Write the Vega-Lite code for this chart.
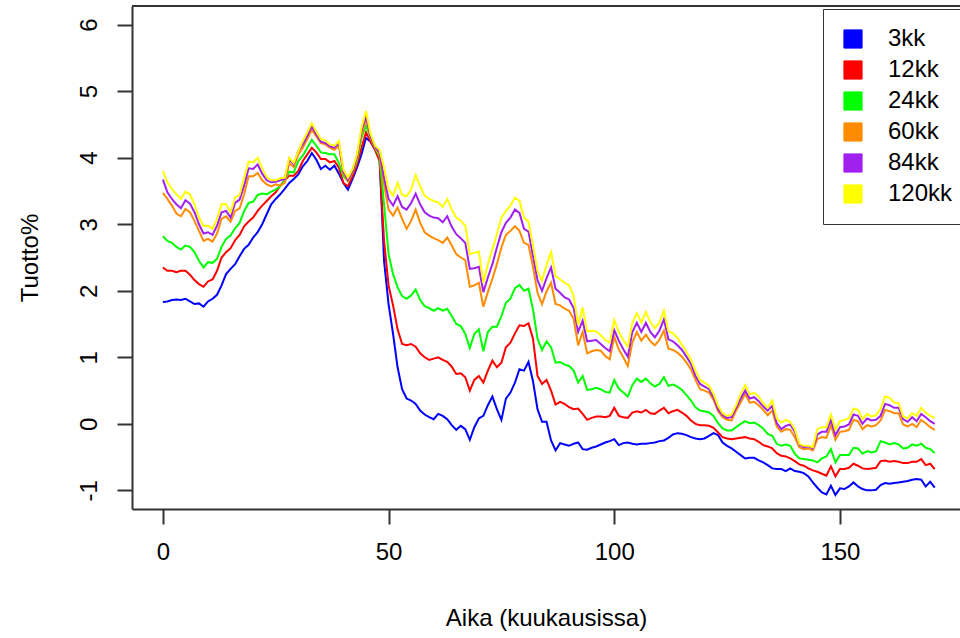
{
"$schema": "https://vega.github.io/schema/vega-lite/v6.json",
"width": 828,
"height": 503,
"autosize": {"type": "none"},
"padding": {"left": 132, "top": 6, "right": 0, "bottom": 129},
"background": "white",
"config": {"view": {"stroke": null}, "font": "Liberation Sans"},
"layer": [
{
"data": {"values": [
{"t":0,"3kk":1.83,"12kk":2.35,"24kk":2.82,"60kk":3.47,"84kk":3.67,"120kk":3.80},
{"t":1,"3kk":1.84,"12kk":2.30,"24kk":2.75,"60kk":3.38,"84kk":3.48,"120kk":3.63},
{"t":2,"3kk":1.86,"12kk":2.30,"24kk":2.72,"60kk":3.28,"84kk":3.38,"120kk":3.53},
{"t":3,"3kk":1.87,"12kk":2.28,"24kk":2.66,"60kk":3.16,"84kk":3.30,"120kk":3.45},
{"t":4,"3kk":1.86,"12kk":2.30,"24kk":2.62,"60kk":3.12,"84kk":3.24,"120kk":3.38},
{"t":5,"3kk":1.88,"12kk":2.30,"24kk":2.68,"60kk":3.23,"84kk":3.36,"120kk":3.49},
{"t":6,"3kk":1.84,"12kk":2.24,"24kk":2.66,"60kk":3.18,"84kk":3.31,"120kk":3.45},
{"t":7,"3kk":1.80,"12kk":2.16,"24kk":2.58,"60kk":3.05,"84kk":3.18,"120kk":3.30},
{"t":8,"3kk":1.81,"12kk":2.10,"24kk":2.45,"60kk":2.90,"84kk":3.00,"120kk":3.10},
{"t":9,"3kk":1.76,"12kk":2.06,"24kk":2.35,"60kk":2.75,"84kk":2.86,"120kk":2.97},
{"t":10,"3kk":1.84,"12kk":2.14,"24kk":2.43,"60kk":2.78,"84kk":2.88,"120kk":2.98},
{"t":11,"3kk":1.88,"12kk":2.17,"24kk":2.42,"60kk":2.74,"84kk":2.84,"120kk":2.93},
{"t":12,"3kk":1.94,"12kk":2.30,"24kk":2.48,"60kk":2.86,"84kk":2.98,"120kk":3.08},
{"t":13,"3kk":2.08,"12kk":2.50,"24kk":2.66,"60kk":3.08,"84kk":3.18,"120kk":3.30},
{"t":14,"3kk":2.25,"12kk":2.58,"24kk":2.78,"60kk":3.12,"84kk":3.20,"120kk":3.30},
{"t":15,"3kk":2.33,"12kk":2.64,"24kk":2.83,"60kk":3.04,"84kk":3.10,"120kk":3.18},
{"t":16,"3kk":2.40,"12kk":2.76,"24kk":2.94,"60kk":3.20,"84kk":3.32,"120kk":3.40},
{"t":17,"3kk":2.52,"12kk":2.84,"24kk":3.02,"60kk":3.24,"84kk":3.37,"120kk":3.44},
{"t":18,"3kk":2.63,"12kk":2.97,"24kk":3.20,"60kk":3.45,"84kk":3.58,"120kk":3.70},
{"t":19,"3kk":2.69,"12kk":3.04,"24kk":3.32,"60kk":3.72,"84kk":3.84,"120kk":3.94},
{"t":20,"3kk":2.80,"12kk":3.10,"24kk":3.34,"60kk":3.72,"84kk":3.83,"120kk":3.93},
{"t":21,"3kk":2.88,"12kk":3.20,"24kk":3.44,"60kk":3.77,"84kk":3.90,"120kk":4.00},
{"t":22,"3kk":3.00,"12kk":3.28,"24kk":3.46,"60kk":3.66,"84kk":3.76,"120kk":3.84},
{"t":23,"3kk":3.15,"12kk":3.35,"24kk":3.45,"60kk":3.60,"84kk":3.66,"120kk":3.71},
{"t":24,"3kk":3.30,"12kk":3.42,"24kk":3.49,"60kk":3.57,"84kk":3.63,"120kk":3.66},
{"t":25,"3kk":3.38,"12kk":3.48,"24kk":3.52,"60kk":3.60,"84kk":3.64,"120kk":3.66},
{"t":26,"3kk":3.45,"12kk":3.58,"24kk":3.57,"60kk":3.58,"84kk":3.66,"120kk":3.69},
{"t":27,"3kk":3.53,"12kk":3.66,"24kk":3.66,"60kk":3.62,"84kk":3.68,"120kk":3.70},
{"t":28,"3kk":3.62,"12kk":3.73,"24kk":3.79,"60kk":3.92,"84kk":3.98,"120kk":4.00},
{"t":29,"3kk":3.68,"12kk":3.73,"24kk":3.78,"60kk":3.86,"84kk":3.90,"120kk":3.92},
{"t":30,"3kk":3.75,"12kk":3.80,"24kk":3.95,"60kk":4.05,"84kk":4.10,"120kk":4.10},
{"t":31,"3kk":3.87,"12kk":3.95,"24kk":4.03,"60kk":4.15,"84kk":4.20,"120kk":4.25},
{"t":32,"3kk":3.95,"12kk":4.05,"24kk":4.15,"60kk":4.28,"84kk":4.33,"120kk":4.38},
{"t":33,"3kk":4.07,"12kk":4.15,"24kk":4.27,"60kk":4.42,"84kk":4.47,"120kk":4.52},
{"t":34,"3kk":3.97,"12kk":4.08,"24kk":4.18,"60kk":4.32,"84kk":4.35,"120kk":4.39},
{"t":35,"3kk":3.83,"12kk":3.98,"24kk":4.08,"60kk":4.22,"84kk":4.24,"120kk":4.28},
{"t":36,"3kk":3.88,"12kk":3.98,"24kk":4.07,"60kk":4.20,"84kk":4.22,"120kk":4.26},
{"t":37,"3kk":3.82,"12kk":3.93,"24kk":4.05,"60kk":4.15,"84kk":4.17,"120kk":4.20},
{"t":38,"3kk":3.88,"12kk":3.95,"24kk":4.05,"60kk":4.12,"84kk":4.15,"120kk":4.18},
{"t":39,"3kk":3.76,"12kk":3.85,"24kk":3.92,"60kk":4.18,"84kk":4.22,"120kk":4.25},
{"t":40,"3kk":3.62,"12kk":3.62,"24kk":3.72,"60kk":3.76,"84kk":3.79,"120kk":3.82},
{"t":41,"3kk":3.52,"12kk":3.57,"24kk":3.65,"60kk":3.65,"84kk":3.67,"120kk":3.70},
{"t":42,"3kk":3.68,"12kk":3.72,"24kk":3.78,"60kk":3.78,"84kk":3.80,"120kk":3.83},
{"t":43,"3kk":3.85,"12kk":3.90,"24kk":3.95,"60kk":3.98,"84kk":4.02,"120kk":4.05},
{"t":44,"3kk":4.05,"12kk":4.15,"24kk":4.30,"60kk":4.35,"84kk":4.40,"120kk":4.45},
{"t":45,"3kk":4.30,"12kk":4.38,"24kk":4.48,"60kk":4.58,"84kk":4.63,"120kk":4.70},
{"t":46,"3kk":4.24,"12kk":4.25,"24kk":4.30,"60kk":4.30,"84kk":4.32,"120kk":4.36},
{"t":47,"3kk":4.12,"12kk":4.12,"24kk":4.15,"60kk":4.16,"84kk":4.17,"120kk":4.18},
{"t":48,"3kk":4.02,"12kk":3.95,"24kk":4.02,"60kk":4.05,"84kk":4.08,"120kk":4.12},
{"t":49,"3kk":2.45,"12kk":2.75,"24kk":3.30,"60kk":3.60,"84kk":3.70,"120kk":3.85},
{"t":50,"3kk":1.80,"12kk":2.08,"24kk":2.55,"60kk":3.22,"84kk":3.38,"120kk":3.52},
{"t":51,"3kk":1.35,"12kk":1.78,"24kk":2.25,"60kk":3.13,"84kk":3.28,"120kk":3.43},
{"t":52,"3kk":0.85,"12kk":1.42,"24kk":2.05,"60kk":3.25,"84kk":3.42,"120kk":3.62},
{"t":53,"3kk":0.52,"12kk":1.20,"24kk":1.92,"60kk":3.08,"84kk":3.26,"120kk":3.44},
{"t":54,"3kk":0.38,"12kk":1.18,"24kk":1.88,"60kk":2.93,"84kk":3.22,"120kk":3.42},
{"t":55,"3kk":0.35,"12kk":1.20,"24kk":1.93,"60kk":3.05,"84kk":3.32,"120kk":3.52},
{"t":56,"3kk":0.30,"12kk":1.16,"24kk":2.02,"60kk":3.22,"84kk":3.46,"120kk":3.74},
{"t":57,"3kk":0.20,"12kk":1.06,"24kk":1.86,"60kk":3.02,"84kk":3.30,"120kk":3.57},
{"t":58,"3kk":0.14,"12kk":1.00,"24kk":1.77,"60kk":2.88,"84kk":3.18,"120kk":3.43},
{"t":59,"3kk":0.10,"12kk":0.96,"24kk":1.74,"60kk":2.83,"84kk":3.13,"120kk":3.38},
{"t":60,"3kk":0.07,"12kk":0.98,"24kk":1.70,"60kk":2.79,"84kk":3.10,"120kk":3.35},
{"t":61,"3kk":0.15,"12kk":1.00,"24kk":1.74,"60kk":2.76,"84kk":3.09,"120kk":3.33},
{"t":62,"3kk":0.12,"12kk":0.96,"24kk":1.70,"60kk":2.72,"84kk":3.03,"120kk":3.26},
{"t":63,"3kk":0.07,"12kk":0.93,"24kk":1.73,"60kk":2.80,"84kk":3.12,"120kk":3.38},
{"t":64,"3kk":-0.02,"12kk":0.86,"24kk":1.62,"60kk":2.68,"84kk":2.96,"120kk":3.22},
{"t":65,"3kk":-0.09,"12kk":0.75,"24kk":1.50,"60kk":2.55,"84kk":2.85,"120kk":3.10},
{"t":66,"3kk":-0.03,"12kk":0.76,"24kk":1.47,"60kk":2.50,"84kk":2.79,"120kk":3.05},
{"t":67,"3kk":-0.08,"12kk":0.70,"24kk":1.35,"60kk":2.46,"84kk":2.72,"120kk":2.98},
{"t":68,"3kk":-0.24,"12kk":0.50,"24kk":1.14,"60kk":2.06,"84kk":2.33,"120kk":2.55},
{"t":69,"3kk":-0.05,"12kk":0.66,"24kk":1.35,"60kk":2.08,"84kk":2.34,"120kk":2.57},
{"t":70,"3kk":0.08,"12kk":0.72,"24kk":1.42,"60kk":2.12,"84kk":2.36,"120kk":2.59},
{"t":71,"3kk":0.12,"12kk":0.62,"24kk":1.09,"60kk":1.76,"84kk":1.98,"120kk":2.12},
{"t":72,"3kk":0.28,"12kk":0.80,"24kk":1.38,"60kk":1.98,"84kk":2.20,"120kk":2.40},
{"t":73,"3kk":0.41,"12kk":0.95,"24kk":1.46,"60kk":2.18,"84kk":2.40,"120kk":2.62},
{"t":74,"3kk":0.22,"12kk":0.85,"24kk":1.46,"60kk":2.40,"84kk":2.65,"120kk":2.85},
{"t":75,"3kk":0.06,"12kk":0.92,"24kk":1.62,"60kk":2.65,"84kk":2.88,"120kk":3.10},
{"t":76,"3kk":0.38,"12kk":1.15,"24kk":1.82,"60kk":2.84,"84kk":3.02,"120kk":3.20},
{"t":77,"3kk":0.47,"12kk":1.22,"24kk":1.88,"60kk":2.90,"84kk":3.10,"120kk":3.28},
{"t":78,"3kk":0.62,"12kk":1.36,"24kk":2.04,"60kk":2.97,"84kk":3.22,"120kk":3.40},
{"t":79,"3kk":0.82,"12kk":1.48,"24kk":2.09,"60kk":2.90,"84kk":3.17,"120kk":3.35},
{"t":80,"3kk":0.80,"12kk":1.47,"24kk":2.00,"60kk":2.72,"84kk":2.93,"120kk":3.10},
{"t":81,"3kk":0.93,"12kk":1.51,"24kk":2.03,"60kk":2.69,"84kk":2.89,"120kk":3.04},
{"t":82,"3kk":0.64,"12kk":1.28,"24kk":1.72,"60kk":2.36,"84kk":2.52,"120kk":2.68},
{"t":83,"3kk":0.22,"12kk":0.72,"24kk":1.28,"60kk":1.97,"84kk":2.16,"120kk":2.30},
{"t":84,"3kk":0.03,"12kk":0.60,"24kk":1.11,"60kk":1.80,"84kk":2.00,"120kk":2.15},
{"t":85,"3kk":0.03,"12kk":0.66,"24kk":1.24,"60kk":1.99,"84kk":2.19,"120kk":2.39},
{"t":86,"3kk":-0.25,"12kk":0.50,"24kk":1.15,"60kk":2.12,"84kk":2.35,"120kk":2.58},
{"t":87,"3kk":-0.40,"12kk":0.29,"24kk":0.92,"60kk":1.80,"84kk":2.03,"120kk":2.22},
{"t":88,"3kk":-0.29,"12kk":0.33,"24kk":0.93,"60kk":1.78,"84kk":1.97,"120kk":2.17},
{"t":89,"3kk":-0.31,"12kk":0.30,"24kk":0.89,"60kk":1.73,"84kk":1.90,"120kk":2.12},
{"t":90,"3kk":-0.33,"12kk":0.25,"24kk":0.87,"60kk":1.70,"84kk":1.87,"120kk":2.08},
{"t":91,"3kk":-0.30,"12kk":0.22,"24kk":0.80,"60kk":1.58,"84kk":1.74,"120kk":1.92},
{"t":92,"3kk":-0.28,"12kk":0.23,"24kk":0.62,"60kk":1.18,"84kk":1.38,"120kk":1.48},
{"t":93,"3kk":-0.38,"12kk":0.15,"24kk":0.72,"60kk":1.38,"84kk":1.55,"120kk":1.75},
{"t":94,"3kk":-0.39,"12kk":0.06,"24kk":0.51,"60kk":1.06,"84kk":1.24,"120kk":1.39},
{"t":95,"3kk":-0.36,"12kk":0.09,"24kk":0.52,"60kk":1.09,"84kk":1.25,"120kk":1.40},
{"t":96,"3kk":-0.34,"12kk":0.11,"24kk":0.54,"60kk":1.11,"84kk":1.26,"120kk":1.39},
{"t":97,"3kk":-0.31,"12kk":0.11,"24kk":0.52,"60kk":1.10,"84kk":1.20,"120kk":1.33},
{"t":98,"3kk":-0.28,"12kk":0.10,"24kk":0.48,"60kk":1.02,"84kk":1.14,"120kk":1.26},
{"t":99,"3kk":-0.26,"12kk":0.12,"24kk":0.47,"60kk":0.97,"84kk":1.09,"120kk":1.22},
{"t":100,"3kk":-0.23,"12kk":0.24,"24kk":0.66,"60kk":1.31,"84kk":1.41,"120kk":1.56},
{"t":101,"3kk":-0.32,"12kk":0.12,"24kk":0.53,"60kk":1.12,"84kk":1.25,"120kk":1.38},
{"t":102,"3kk":-0.29,"12kk":0.10,"24kk":0.47,"60kk":1.00,"84kk":1.12,"120kk":1.26},
{"t":103,"3kk":-0.28,"12kk":0.09,"24kk":0.41,"60kk":0.87,"84kk":1.01,"120kk":1.16},
{"t":104,"3kk":-0.30,"12kk":0.17,"24kk":0.58,"60kk":1.22,"84kk":1.38,"120kk":1.52},
{"t":105,"3kk":-0.31,"12kk":0.19,"24kk":0.68,"60kk":1.38,"84kk":1.52,"120kk":1.66},
{"t":106,"3kk":-0.30,"12kk":0.17,"24kk":0.63,"60kk":1.25,"84kk":1.38,"120kk":1.52},
{"t":107,"3kk":-0.30,"12kk":0.21,"24kk":0.68,"60kk":1.34,"84kk":1.52,"120kk":1.68},
{"t":108,"3kk":-0.29,"12kk":0.16,"24kk":0.61,"60kk":1.24,"84kk":1.38,"120kk":1.53},
{"t":109,"3kk":-0.28,"12kk":0.15,"24kk":0.56,"60kk":1.18,"84kk":1.30,"120kk":1.44},
{"t":110,"3kk":-0.26,"12kk":0.20,"24kk":0.60,"60kk":1.26,"84kk":1.40,"120kk":1.52},
{"t":111,"3kk":-0.25,"12kk":0.24,"24kk":0.70,"60kk":1.40,"84kk":1.57,"120kk":1.70},
{"t":112,"3kk":-0.21,"12kk":0.16,"24kk":0.57,"60kk":1.13,"84kk":1.27,"120kk":1.39},
{"t":113,"3kk":-0.16,"12kk":0.19,"24kk":0.59,"60kk":1.11,"84kk":1.24,"120kk":1.36},
{"t":114,"3kk":-0.14,"12kk":0.21,"24kk":0.56,"60kk":1.07,"84kk":1.18,"120kk":1.29},
{"t":115,"3kk":-0.15,"12kk":0.17,"24kk":0.51,"60kk":1.01,"84kk":1.11,"120kk":1.19},
{"t":116,"3kk":-0.17,"12kk":0.12,"24kk":0.43,"60kk":0.92,"84kk":1.01,"120kk":1.08},
{"t":117,"3kk":-0.20,"12kk":0.05,"24kk":0.35,"60kk":0.82,"84kk":0.90,"120kk":0.96},
{"t":118,"3kk":-0.22,"12kk":0.00,"24kk":0.25,"60kk":0.66,"84kk":0.72,"120kk":0.80},
{"t":119,"3kk":-0.23,"12kk":-0.02,"24kk":0.20,"60kk":0.52,"84kk":0.60,"120kk":0.66},
{"t":120,"3kk":-0.22,"12kk":-0.02,"24kk":0.19,"60kk":0.50,"84kk":0.56,"120kk":0.62},
{"t":121,"3kk":-0.18,"12kk":-0.03,"24kk":0.17,"60kk":0.47,"84kk":0.52,"120kk":0.57},
{"t":122,"3kk":-0.14,"12kk":-0.06,"24kk":0.12,"60kk":0.36,"84kk":0.40,"120kk":0.45},
{"t":123,"3kk":-0.17,"12kk":-0.13,"24kk":0.01,"60kk":0.19,"84kk":0.22,"120kk":0.27},
{"t":124,"3kk":-0.28,"12kk":-0.20,"24kk":-0.07,"60kk":0.10,"84kk":0.13,"120kk":0.16},
{"t":125,"3kk":-0.33,"12kk":-0.22,"24kk":-0.10,"60kk":0.06,"84kk":0.09,"120kk":0.12},
{"t":126,"3kk":-0.37,"12kk":-0.23,"24kk":-0.10,"60kk":0.05,"84kk":0.10,"120kk":0.14},
{"t":127,"3kk":-0.42,"12kk":-0.22,"24kk":-0.05,"60kk":0.20,"84kk":0.24,"120kk":0.28},
{"t":128,"3kk":-0.47,"12kk":-0.21,"24kk":0.00,"60kk":0.32,"84kk":0.38,"120kk":0.45},
{"t":129,"3kk":-0.52,"12kk":-0.20,"24kk":0.04,"60kk":0.45,"84kk":0.50,"120kk":0.58},
{"t":130,"3kk":-0.51,"12kk":-0.22,"24kk":0.01,"60kk":0.32,"84kk":0.38,"120kk":0.44},
{"t":131,"3kk":-0.51,"12kk":-0.23,"24kk":0.02,"60kk":0.33,"84kk":0.40,"120kk":0.47},
{"t":132,"3kk":-0.55,"12kk":-0.27,"24kk":-0.02,"60kk":0.28,"84kk":0.34,"120kk":0.41},
{"t":133,"3kk":-0.58,"12kk":-0.32,"24kk":-0.07,"60kk":0.21,"84kk":0.26,"120kk":0.31},
{"t":134,"3kk":-0.62,"12kk":-0.34,"24kk":-0.15,"60kk":0.13,"84kk":0.20,"120kk":0.24},
{"t":135,"3kk":-0.67,"12kk":-0.37,"24kk":-0.18,"60kk":0.20,"84kk":0.27,"120kk":0.35},
{"t":136,"3kk":-0.68,"12kk":-0.44,"24kk":-0.30,"60kk":-0.04,"84kk":0.01,"120kk":0.08},
{"t":137,"3kk":-0.68,"12kk":-0.48,"24kk":-0.33,"60kk":-0.12,"84kk":-0.08,"120kk":0.02},
{"t":138,"3kk":-0.71,"12kk":-0.49,"24kk":-0.31,"60kk":-0.08,"84kk":-0.03,"120kk":0.06},
{"t":139,"3kk":-0.67,"12kk":-0.52,"24kk":-0.33,"60kk":-0.09,"84kk":-0.01,"120kk":0.03},
{"t":140,"3kk":-0.71,"12kk":-0.56,"24kk":-0.45,"60kk":-0.20,"84kk":-0.12,"120kk":-0.08},
{"t":141,"3kk":-0.72,"12kk":-0.61,"24kk":-0.52,"60kk":-0.35,"84kk":-0.31,"120kk":-0.30},
{"t":142,"3kk":-0.74,"12kk":-0.63,"24kk":-0.53,"60kk":-0.38,"84kk":-0.35,"120kk":-0.33},
{"t":143,"3kk":-0.79,"12kk":-0.67,"24kk":-0.54,"60kk":-0.37,"84kk":-0.34,"120kk":-0.33},
{"t":144,"3kk":-0.88,"12kk":-0.70,"24kk":-0.55,"60kk":-0.40,"84kk":-0.37,"120kk":-0.35},
{"t":145,"3kk":-0.96,"12kk":-0.72,"24kk":-0.58,"60kk":-0.23,"84kk":-0.16,"120kk":-0.08},
{"t":146,"3kk":-1.03,"12kk":-0.75,"24kk":-0.52,"60kk":-0.20,"84kk":-0.12,"120kk":-0.05},
{"t":147,"3kk":-1.06,"12kk":-0.78,"24kk":-0.49,"60kk":-0.21,"84kk":-0.12,"120kk":-0.05},
{"t":148,"3kk":-0.93,"12kk":-0.64,"24kk":-0.38,"60kk":-0.02,"84kk":0.06,"120kk":0.14},
{"t":149,"3kk":-1.07,"12kk":-0.79,"24kk":-0.58,"60kk":-0.24,"84kk":-0.17,"120kk":-0.09},
{"t":150,"3kk":-0.97,"12kk":-0.68,"24kk":-0.47,"60kk":-0.12,"84kk":-0.05,"120kk":0.04},
{"t":151,"3kk":-0.98,"12kk":-0.68,"24kk":-0.47,"60kk":-0.11,"84kk":-0.04,"120kk":0.06},
{"t":152,"3kk":-0.94,"12kk":-0.66,"24kk":-0.47,"60kk":-0.09,"84kk":-0.01,"120kk":0.08},
{"t":153,"3kk":-0.88,"12kk":-0.60,"24kk":-0.36,"60kk":0.06,"84kk":0.14,"120kk":0.23},
{"t":154,"3kk":-0.94,"12kk":-0.63,"24kk":-0.37,"60kk":0.04,"84kk":0.12,"120kk":0.21},
{"t":155,"3kk":-0.98,"12kk":-0.67,"24kk":-0.45,"60kk":-0.08,"84kk":0.00,"120kk":0.07},
{"t":156,"3kk":-1.00,"12kk":-0.68,"24kk":-0.41,"60kk":-0.02,"84kk":0.08,"120kk":0.15},
{"t":157,"3kk":-1.00,"12kk":-0.67,"24kk":-0.43,"60kk":-0.04,"84kk":0.05,"120kk":0.11},
{"t":158,"3kk":-0.99,"12kk":-0.66,"24kk":-0.41,"60kk":-0.02,"84kk":0.06,"120kk":0.13},
{"t":159,"3kk":-0.92,"12kk":-0.56,"24kk":-0.26,"60kk":0.05,"84kk":0.12,"120kk":0.22},
{"t":160,"3kk":-0.89,"12kk":-0.55,"24kk":-0.28,"60kk":0.21,"84kk":0.30,"120kk":0.41},
{"t":161,"3kk":-0.90,"12kk":-0.57,"24kk":-0.31,"60kk":0.19,"84kk":0.28,"120kk":0.39},
{"t":162,"3kk":-0.89,"12kk":-0.56,"24kk":-0.29,"60kk":0.16,"84kk":0.24,"120kk":0.32},
{"t":163,"3kk":-0.88,"12kk":-0.57,"24kk":-0.31,"60kk":0.16,"84kk":0.24,"120kk":0.31},
{"t":164,"3kk":-0.87,"12kk":-0.59,"24kk":-0.37,"60kk":-0.01,"84kk":0.07,"120kk":0.11},
{"t":165,"3kk":-0.86,"12kk":-0.59,"24kk":-0.36,"60kk":-0.04,"84kk":0.03,"120kk":0.08},
{"t":166,"3kk":-0.84,"12kk":-0.57,"24kk":-0.31,"60kk":0.00,"84kk":0.10,"120kk":0.16},
{"t":167,"3kk":-0.83,"12kk":-0.57,"24kk":-0.33,"60kk":-0.05,"84kk":0.04,"120kk":0.12},
{"t":168,"3kk":-0.84,"12kk":-0.53,"24kk":-0.30,"60kk":0.06,"84kk":0.15,"120kk":0.24},
{"t":169,"3kk":-0.94,"12kk":-0.62,"24kk":-0.36,"60kk":0.01,"84kk":0.10,"120kk":0.17},
{"t":170,"3kk":-0.87,"12kk":-0.60,"24kk":-0.38,"60kk":-0.05,"84kk":0.04,"120kk":0.12},
{"t":171,"3kk":-0.96,"12kk":-0.68,"24kk":-0.44,"60kk":-0.09,"84kk":0.00,"120kk":0.09}
]},
"transform": [{"fold": ["3kk","12kk","24kk","60kk","84kk","120kk"], "as": ["sarja","tuotto"]}],
"mark": {"type": "line", "strokeWidth": 2, "clip": true},
"encoding": {
"x": {"field": "t", "type": "quantitative",
"scale": {"domain": [-6.84, 176.6], "nice": false, "zero": false},
"axis": {"values": [0,50,100,150], "title": "Aika (kuukausissa)", "grid": false,
"domainColor": "#333", "domainWidth": 2, "tickColor": "#333", "tickWidth": 2, "tickSize": 15,
"labelFontSize": 24, "labelFont": "Liberation Sans", "labelColor": "#000", "labelPadding": 16, "labelBaseline": "top",
"titleFontSize": 24, "titleFont": "Liberation Sans", "titleFontWeight": "normal", "titleColor": "#000",
"titleX": 414, "titleY": 116, "titleBaseline": "alphabetic", "titleAlign": "center"}},
"y": {"field": "tuotto", "type": "quantitative",
"scale": {"domain": [-1.28, 6.28], "nice": false, "zero": false},
"axis": {"values": [-1,0,1,2,3,4,5,6], "labelExpr": "'' + datum.value", "title": "Tuotto%", "grid": false,
"domainColor": "#333", "domainWidth": 2, "tickColor": "#333", "tickWidth": 2, "tickSize": 15,
"labelFontSize": 24, "labelFont": "Liberation Sans", "labelColor": "#000", "labelAngle": -90, "labelAlign": "center", "labelBaseline": "alphabetic", "labelPadding": 21,
"titleFontSize": 24, "titleFont": "Liberation Sans", "titleFontWeight": "normal", "titleColor": "#000",
"titleAngle": -90, "titleX": -95, "titleY": 251.5, "titleBaseline": "alphabetic", "titleAlign": "center"}},
"color": {"field": "sarja", "type": "nominal",
"scale": {"domain": ["3kk","12kk","24kk","60kk","84kk","120kk"], "range": ["#0000FF","#FF0000","#00FF00","#FF8C00","#A020F0","#FFFF00"]},
"legend": {"orient": "none", "legendX": 691, "legendY": 3, "title": null,
"strokeColor": "#333", "fillColor": "white", "padding": 18,
"symbolType": "square", "symbolSize": 330, "symbolStrokeWidth": 1,
"labelFontSize": 24, "labelFont": "Liberation Sans", "labelColor": "#000", "labelOffset": 23, "rowPadding": 7,
"encode": {"symbols": {"update": {"fill": {"scale": "color", "field": "value"}, "stroke": {"value": "#222"}, "strokeWidth": {"value": 1}, "opacity": {"value": 1}}}}}}
}
},
{
"data": {"values": [{}]},
"mark": {"type": "rule", "color": "#333", "strokeWidth": 2},
"encoding": {"y": {"datum": 6.28}}
}
]
}
